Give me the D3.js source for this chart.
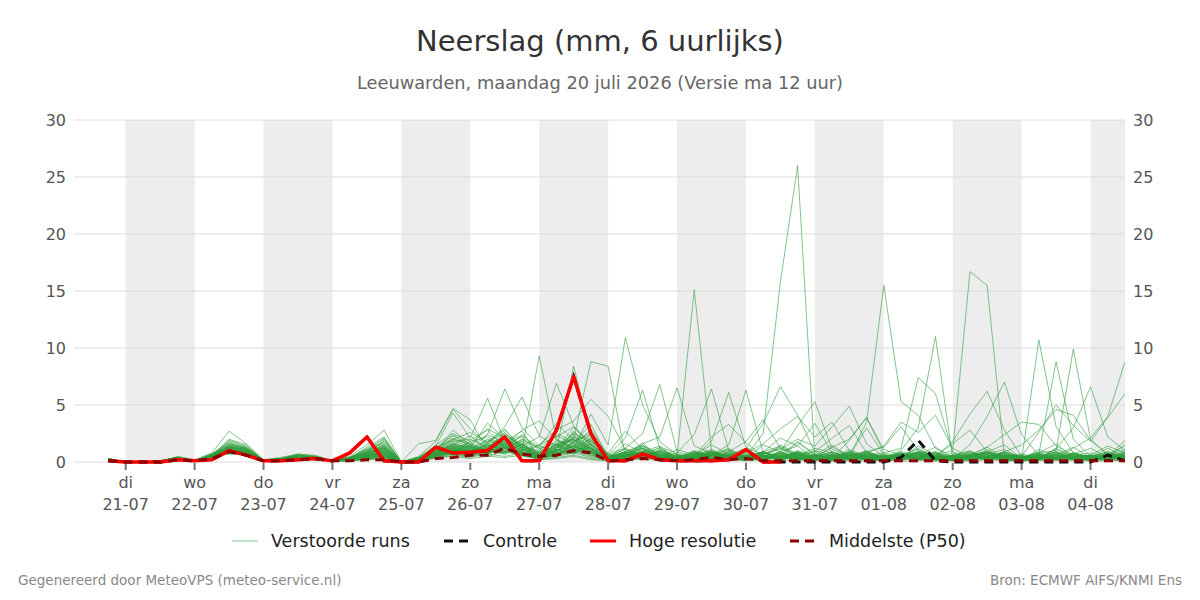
<!DOCTYPE html>
<html lang="nl">
<head>
<meta charset="UTF-8">
<title>Neerslag (mm, 6 uurlijks)</title>
<script src="https://d3js.org/d3.v7.min.js"></script>
<style>
  body { margin: 0; background: #fff; }
  svg { font-family: "DejaVu Sans", sans-serif; display: block; }
  .grid line { stroke: #dcdcdc; stroke-width: 1; }
  .ylab { font-size: 16px; fill: #555; }
  .xlab { font-size: 16px; fill: #555; }
  .run { fill: none; stroke: #2e9e3e; stroke-opacity: 0.6; stroke-width: 1; }
</style>
</head>
<body>
<svg width="1200" height="600"></svg>
<script>
// tijdstap 6 uur, eerste waarde 20-07 18:00 UTC
const startTime = Date.UTC(2026, 6, 20, 18);

// Hoge resolutie (stopt na 10 dagen)
const hres = [0.1, 0,0,0,0.2, 0.1,0.2,1.0,0.6, 0.1,0.1,0.2,0.3, 0.1,0.8,2.2,0.1, 0,0,1.3,0.8,
  0.85,1.0,2.2,0.1, 0.1,2.8,7.5,2.5, 0.1,0.1,0.7,0.2, 0.1,0.1,0.1,0.2, 1.1,0,0];

// Controle run
const control = [0.1, 0,0,0,0.2, 0.1,0.2,1.0,0.6, 0.1,0.1,0.2,0.3, 0.1,0.8,2.2,0.1, 0,0,1.3,0.8,
  0.85,1.0,2.2,0.1, 0.1,2.8,7.5,2.5, 0.1,0.1,0.7,0.2, 0.1,0.1,0.1,0.2, 1.1,0,0,0,
  0,0,0,0, 0,0.4,1.9,0.1, 0,0,0,0, 0,0,0,0, 0,0.6,0.1];

// Middelste (P50)
const p50 = [0.1, 0,0,0,0.2, 0.1,0.3,0.9,0.6, 0.1,0.1,0.2,0.3, 0.1,0.1,0.2,0.2, 0,0,0.3,0.4,
  0.6,0.6,1.2,0.7, 0.5,0.6,1.0,0.8, 0.1,0.2,0.3,0.2, 0.1,0.2,0.4,0.2, 0.3,0.1,0.1,0.1,
  0.1,0.1,0.1,0.1, 0.1,0.1,0.1,0.1, 0.1,0.1,0.1,0.1, 0.1,0.1,0.1,0.1, 0.1,0.1,0.1];

// Verstoorde runs (50 leden)
const runs = [
  [0.2, 0,0,0.1,0.3, 0.1,0.5,1.1,0.8, 0.1,0.2,0.4,0.3, 0.1,0.3,0.6,0.9, 0,0.4,1.2,2.1, 1.4,0.8,1.6,0.5, 0.3,1.2,2.0,0.9, 0.1,0.3,0.6,0.2, 0.1,0.4,0.2,0.3, 0.5,2.5,15.8,26.0, 0.3,0.1,0.4,0.2, 0.1,0.3,0.8,0.2, 0.1,0.4,1.1,0.3, 0.1,0.2,0.6,1.3, 0.4,0.2,0.6],
  [0.2, 0,0,0,0.4, 0.1,0.6,1.4,1.0, 0.1,0.3,0.5,0.4, 0.1,0.2,0.3,0.5, 0,0.1,0.8,1.5, 2.3,1.1,0.7,1.9, 0.6,0.4,1.8,2.6, 0.3,0.8,1.2,0.4, 0.2,0.6,1.5,0.7, 0.2,0.9,1.4,0.6, 1.2,0.8,0.5,3.5, 15.5,5.3,4.1,1.2, 0.3,0.6,0.9,0.4, 0.2,1.1,0.5,0.3, 0.6,1.4,0.8],
  [0.2, 0,0,0.1,0.3, 0.1,0.5,0.9,0.7, 0.1,0.2,0.3,0.3, 0.1,0.1,0.2,0.3, 0,0.2,0.6,1.1, 0.8,1.7,2.9,1.2, 0.5,1.0,1.4,0.8, 0.2,0.4,0.3,1.1, 0.4,0.2,0.7,0.3, 0.1,0.6,0.3,0.8, 0.4,1.3,0.6,0.2, 0.5,0.3,1.4,0.6, 1.0,16.7,15.5,0.5, 0.3,0.8,1.6,0.4, 0.2,0.5,1.9],
  [0.3, 0,0,0,0.4, 0.1,0.6,1.5,1.2, 0.2,0.3,0.6,0.4, 0.1,0.4,0.9,1.3, 0,0.3,1.0,0.6, 1.9,2.8,1.3,0.7, 1.5,2.2,3.1,1.4, 0.2,0.9,0.5,0.7, 0.5,15.1,1.0,0.4, 0.6,0.3,0.8,0.2, 0.1,0.4,0.2,0.9, 0.3,0.6,0.2,0.1, 0.4,0.2,0.7,1.1, 0.3,0.5,0.2,0.8, 0.4,0.9,0.3],
  [0.2, 0,0,0.1,0.3, 0.1,0.4,0.8,0.6, 0.1,0.2,0.3,0.2, 0.1,0.2,0.4,0.6, 0,0.2,0.9,1.7, 1.2,3.4,2.1,0.9, 0.7,1.9,1.2,4.2, 1.5,10.9,5.0,1.8, 0.6,0.3,0.9,0.4, 0.2,0.7,1.3,0.5, 0.3,0.1,0.6,0.3, 0.2,0.8,0.4,0.2, 0.6,1.0,0.3,0.2, 0.1,0.4,0.9,0.3, 0.2,0.6,1.4],
  [0.2, 0,0,0,0.3, 0.1,0.5,1.2,0.9, 0.1,0.3,0.4,0.3, 0.1,0.3,0.7,1.1, 0,0.1,0.5,1.0, 0.6,1.3,2.4,1.6, 0.4,0.9,2.3,1.1, 0.3,0.2,0.8,0.5, 0.1,0.5,0.3,0.9, 0.4,0.2,0.6,1.8, 0.7,0.3,1.1,0.5, 0.4,1.0,3.0,11.0, 0.3,0.6,0.2,0.9, 0.5,0.2,1.2,0.4, 0.1,0.3,0.7],
  [0.2, 0,0,0.1,0.4, 0.1,0.6,1.0,0.8, 0.1,0.2,0.5,0.4, 0.1,0.2,0.5,0.8, 0,0.3,0.7,1.3, 0.9,0.6,1.8,2.7, 0.4,1.6,0.9,2.2, 0.2,0.5,1.7,0.3, 0.2,0.9,0.4,0.6, 0.8,0.3,1.5,0.7, 0.2,0.5,0.9,0.3, 0.1,0.7,0.5,0.4, 0.2,0.3,0.8,0.6, 0.2,10.7,3.1,0.8, 0.4,1.2,0.5],
  [0.2, 0,0,0,0.3, 0.1,0.5,1.3,1.0, 0.1,0.3,0.4,0.3, 0.1,0.4,1.1,1.6, 0,0.2,0.6,0.9, 1.5,1.0,0.8,1.3, 0.9,0.5,1.7,3.3, 0.4,0.2,0.9,1.4, 0.3,0.6,1.1,0.5, 0.2,0.4,0.3,1.0, 0.6,1.5,0.4,0.2, 0.3,0.9,0.6,1.3, 0.4,0.2,0.5,0.9, 0.3,0.8,1.0,9.9, 2.0,0.6,1.1],
  [0.3, 0,0,0.1,0.4, 0.1,0.7,1.6,1.1, 0.2,0.2,0.6,0.5, 0.1,0.3,0.8,1.2, 0,0.1,0.4,0.8, 1.1,2.0,1.5,0.6, 0.3,1.3,2.5,1.7, 0.2,0.6,0.4,0.9, 0.7,0.3,0.6,1.2, 0.4,0.9,0.2,0.5, 1.0,0.6,0.3,0.8, 0.2,0.5,1.2,0.3, 0.6,0.4,0.9,1.5, 0.3,0.7,8.8,2.0, 0.5,0.3,0.8],
  [0.2, 0,0,0,0.3, 0.1,0.4,0.9,0.7, 0.1,0.2,0.4,0.3, 0.1,0.2,0.5,0.7, 0,0.3,1.1,1.9, 1.3,0.7,2.2,1.0, 9.3,2.0,1.1,0.6, 0.3,0.8,1.2,0.5, 0.2,0.4,0.8,0.3, 0.5,0.2,0.9,1.4, 0.3,0.6,0.2,0.4, 0.7,0.3,0.5,0.9, 0.2,0.6,1.3,0.4, 0.1,0.5,0.3,0.7, 1.2,0.4,0.6],
  [0.2, 0,0,0.1,0.3, 0.1,0.5,1.0,0.8, 0.1,0.2,0.3,0.4, 0.1,0.3,0.6,0.4, 0,0.2,0.8,1.4, 0.9,1.5,1.0,2.0, 1.2,1.6,2.0,8.8, 8.4,0.5,1.4,0.7, 0.4,0.9,0.3,0.5, 0.2,0.8,0.4,0.3, 0.6,0.2,0.5,1.0, 0.3,0.7,0.4,0.2, 0.5,0.9,0.3,0.6, 0.2,0.4,1.1,0.5, 0.3,0.7,0.4],
  [0.2, 0,0,0,0.4, 0.1,0.6,1.1,0.9, 0.1,0.3,0.5,0.3, 0.1,0.2,0.4,1.0, 0,0.2,0.7,1.0, 0.7,1.2,2.6,1.1, 0.6,1.0,8.4,2.3, 0.5,1.1,0.6,0.3, 0.2,0.7,1.0,0.4, 0.3,0.5,0.2,0.6, 0.4,0.3,0.8,0.5, 0.2,0.4,0.6,0.3, 0.1,0.3,0.5,0.8, 0.4,0.2,0.6,0.3, 0.2,0.5,0.9],
  [0.2, 0,0,0.1,0.3, 0.1,0.5,0.9,0.6, 0.1,0.2,0.4,0.3, 0.1,0.1,0.3,0.5, 0,0.3,0.9,0.7, 1.0,0.8,1.2,0.9, 0.4,0.7,1.5,0.8, 0.3,0.6,0.4,1.0, 0.2,0.5,0.3,0.7, 0.4,0.2,0.6,0.3, 0.5,0.9,0.4,0.2, 0.3,0.6,0.9,0.4, 0.2,0.7,0.3,0.5, 0.4,0.9,0.3,1.2, 2.1,4.0,8.8],
  [0.2, 0,0,0,0.3, 0.1,0.6,1.2,1.0, 0.1,0.3,0.4,0.4, 0.1,0.4,0.8,1.4, 0,0.2,0.5,1.2, 1.7,0.9,1.4,0.6, 0.3,0.8,1.2,2.0, 0.2,0.4,0.9,0.6, 0.3,0.6,0.2,0.5, 0.7,0.3,0.5,0.9, 0.2,0.4,0.3,0.6, 0.8,1.2,7.4,6.0, 0.9,0.3,0.6,0.2, 0.4,0.7,0.3,0.5, 0.2,0.6,0.4],
  [0.3, 0,0,0.1,0.4, 0.1,0.7,1.3,1.1, 0.1,0.2,0.5,0.4, 0.1,0.3,0.7,1.2, 0,0.3,0.9,1.6, 1.1,2.4,1.7,0.8, 0.5,1.4,0.9,1.6, 0.2,0.7,1.3,0.4, 0.6,0.3,0.8,0.5, 0.2,0.9,0.4,0.7, 0.3,0.6,0.2,0.4, 0.5,0.2,0.9,0.6, 0.3,1.5,4.0,7.0, 2.4,0.6,0.3,0.8, 0.4,0.9,0.5],
  [0.2, 0,0,0,0.3, 0.1,0.5,1.0,0.7, 0.1,0.2,0.3,0.3, 0.1,0.2,0.4,0.6, 0,0.1,0.6,1.1, 0.8,1.1,0.9,1.7, 0.4,0.6,1.3,0.9, 0.3,0.5,0.8,0.3, 0.2,0.4,0.6,1.1, 0.3,0.7,0.2,0.5, 0.4,0.3,0.9,0.2, 0.6,0.4,0.3,0.8, 0.2,0.5,0.7,0.3, 0.4,0.3,1.2,3.0, 6.6,2.2,1.0],
  [0.2, 0,0,0.1,0.3, 0.1,0.4,0.8,0.6, 0.1,0.2,0.3,0.2, 0.1,0.2,0.3,0.4, 0,0.2,0.8,1.3, 0.6,1.4,2.0,1.2, 0.7,0.9,1.8,1.0, 0.4,1.2,2.5,6.8, 0.9,0.4,0.7,0.3, 0.2,0.6,0.3,0.9, 0.5,0.2,0.4,0.7, 0.3,0.6,0.2,0.4, 0.8,0.3,0.5,0.2, 0.1,0.6,0.4,0.3, 0.5,0.2,0.7],
  [0.2, 0,0,0,0.4, 0.1,0.6,1.4,1.1, 0.1,0.3,0.6,0.4, 0.1,0.3,0.9,1.8, 0,0.4,1.3,2.3, 1.6,0.7,1.1,2.4, 1.0,0.8,2.7,1.5, 0.6,2.1,6.3,1.2, 0.4,0.8,0.5,1.0, 0.3,1.5,0.9,3.2, 5.3,1.1,0.6,0.3, 0.2,0.5,0.9,0.4, 0.3,0.6,0.2,0.7, 0.5,0.3,0.8,0.4, 0.6,0.3,0.5],
  [0.2, 0,0,0.1,0.3, 0.1,0.5,1.0,0.8, 0.1,0.2,0.4,0.3, 0.1,0.3,0.5,0.7, 0,0.2,0.7,0.9, 1.2,0.9,1.4,0.7, 0.5,1.1,0.8,1.9, 0.7,0.4,1.6,2.2, 6.5,1.4,0.8,0.5, 0.2,0.4,0.7,0.3, 0.6,0.2,0.5,0.9, 0.4,0.3,0.7,0.2, 0.5,0.9,0.4,0.3, 0.2,0.6,0.3,0.8, 0.4,0.2,0.6],
  [0.2, 0,0,0,0.3, 0.1,0.5,1.2,0.9, 0.1,0.3,0.4,0.4, 0.1,0.2,0.6,1.0, 0,0.1,0.6,1.4, 0.9,1.6,1.2,0.8, 0.6,1.5,1.0,2.1, 0.3,0.7,0.4,1.3, 0.8,2.4,6.4,1.0, 0.5,0.3,0.9,0.4, 0.2,0.7,0.3,0.5, 0.6,0.2,0.4,0.8, 0.3,0.5,0.2,0.6, 0.4,0.8,0.3,0.5, 0.2,0.4,0.7],
  [0.2, 0,0,0.1,0.4, 0.1,0.6,1.1,0.8, 0.1,0.2,0.5,0.3, 0.1,0.3,0.8,1.3, 0,0.3,1.0,1.8, 2.0,1.2,0.9,1.5, 0.8,2.3,1.6,0.9, 0.4,0.9,1.5,0.6, 0.3,0.5,1.8,6.1, 1.3,0.6,0.4,0.9, 0.3,0.5,0.8,0.2, 0.4,0.7,0.3,0.6, 0.2,0.4,0.9,0.3, 0.6,0.2,0.5,0.4, 0.3,0.7,0.2],
  [0.2, 0,0,0,0.3, 0.1,0.5,0.9,0.7, 0.1,0.2,0.3,0.3, 0.1,0.2,0.5,0.8, 0,0.2,0.5,1.0, 1.4,0.8,1.9,1.1, 0.5,0.9,2.2,1.3, 0.3,0.6,0.9,0.4, 0.7,0.3,0.6,1.5, 6.3,0.8,0.4,0.7, 0.2,0.5,0.3,0.6, 0.4,0.8,0.2,0.5, 0.3,0.6,0.9,0.4, 0.2,0.5,0.3,0.7, 0.4,0.6,0.3],
  [0.2, 0,0,0.1,0.3, 0.1,0.4,1.0,0.7, 0.1,0.3,0.4,0.3, 0.1,0.3,0.6,0.9, 0,0.2,0.8,1.2, 0.7,1.3,1.6,0.9, 0.4,1.2,1.9,1.0, 0.2,0.5,0.7,0.3, 0.4,0.8,0.3,0.6, 1.2,3.4,6.6,4.1, 0.9,0.4,0.6,0.3, 0.2,0.5,0.7,0.4, 0.6,0.3,0.5,0.8, 0.3,0.4,0.2,0.6, 0.5,0.3,0.4],
  [0.2, 0,0,0,0.4, 0.1,0.6,1.3,1.0, 0.1,0.2,0.5,0.4, 0.1,0.4,1.0,1.5, 0,0.3,1.1,2.4, 1.3,0.9,1.7,0.6, 0.3,1.8,1.2,2.4, 0.5,0.8,0.4,1.0, 0.3,0.6,0.9,0.4, 0.2,0.7,1.1,2.0, 1.4,3.1,4.9,1.6, 0.5,0.3,0.8,0.4, 0.2,0.6,0.3,0.5, 0.7,0.4,0.2,0.6, 0.3,0.5,0.8],
  [0.2, 0,0,0.1,0.3, 0.1,0.5,1.0,0.8, 0.1,0.2,0.4,0.3, 0.1,0.2,0.5,0.9, 0,1.6,1.9,4.7, 3.7,1.0,2.3,1.4, 0.6,1.1,0.7,1.6, 0.3,0.5,1.0,0.6, 0.2,0.4,0.7,0.3, 0.5,0.9,0.4,1.7, 0.6,0.3,1.9,3.9, 0.8,0.4,0.6,0.3, 0.5,0.2,0.8,0.4, 0.3,0.6,0.4,0.2, 0.5,0.3,0.6],
  [0.3, 0,0,0,0.4, 0.1,0.7,1.8,1.3, 0.2,0.3,0.6,0.5, 0.1,0.3,0.9,1.4, 0,0.3,1.4,4.3, 2.1,5.6,1.8,1.0, 0.8,1.5,2.0,1.1, 0.4,0.9,0.6,0.3, 0.6,0.3,0.9,0.5, 0.2,0.5,0.3,0.8, 0.4,0.6,0.2,0.5, 0.3,0.7,0.4,0.9, 0.2,0.5,0.3,0.6, 0.4,0.2,0.7,0.3, 0.5,0.8,0.3],
  [0.2, 0,0,0.1,0.3, 0.1,0.5,2.0,1.5, 0.1,0.2,0.5,0.4, 0.1,0.2,0.7,1.1, 0,0.2,0.9,2.8, 1.5,2.4,6.4,3.0, 1.4,0.9,2.6,1.2, 0.3,0.6,1.1,0.4, 0.2,0.5,0.3,0.8, 0.4,0.2,0.6,0.3, 0.5,0.8,0.3,0.6, 0.2,0.4,0.9,0.5, 0.3,0.6,0.2,0.4, 0.5,0.3,0.7,0.2, 0.4,0.6,0.3],
  [0.2, 0,0,0,0.3, 0.1,0.6,1.5,1.2, 0.1,0.3,0.5,0.4, 0.1,0.3,1.3,2.2, 0,0.4,1.2,2.0, 2.6,1.7,3.1,5.7, 2.3,1.4,0.8,1.8, 0.6,0.3,0.9,0.5, 0.3,0.7,0.4,0.6, 0.2,0.5,0.8,0.3, 0.6,0.4,0.2,0.7, 0.3,0.5,0.8,0.4, 0.2,0.6,0.3,0.5, 0.4,0.7,0.3,0.5, 0.2,0.4,0.6],
  [0.2, 0,0,0.1,0.4, 0.1,0.5,1.1,0.9, 0.1,0.2,0.4,0.3, 0.1,0.2,0.4,0.7, 0,0.1,0.7,1.3, 1.0,1.6,2.0,1.4, 2.2,6.9,3.2,1.5, 0.4,0.7,0.3,0.9, 0.5,0.2,0.6,0.4, 0.3,0.8,0.5,0.2, 0.4,0.6,0.3,0.8, 0.5,0.2,0.4,0.7, 0.3,0.5,0.8,0.2, 0.6,0.3,0.5,0.4, 0.2,0.7,0.5],
  [0.2, 0,0,0,0.3, 0.1,0.4,0.9,0.6, 0.1,0.2,0.3,0.3, 0.1,0.1,0.4,0.6, 0,0.2,0.6,1.1, 0.9,1.3,1.7,1.0, 1.5,2.8,3.6,5.5, 4.0,1.1,0.5,0.8, 0.3,0.6,0.4,0.2, 0.5,0.3,0.7,0.4, 0.2,0.5,0.3,0.6, 0.4,0.7,0.3,0.5, 0.2,0.4,0.6,0.3, 0.5,0.2,0.4,0.7, 0.3,0.5,0.2],
  [0.2, 0,0,0.1,0.3, 0.1,0.5,1.2,1.0, 0.1,0.3,0.4,0.3, 0.1,0.3,0.7,1.2, 0,0.2,0.8,1.6, 1.2,0.7,1.5,2.2, 0.6,1.0,1.6,0.8, 0.3,0.5,1.2,0.6, 0.2,0.8,0.4,0.3, 0.6,0.4,0.8,0.5, 0.3,0.9,0.4,0.7, 0.2,0.6,1.1,0.5, 1.8,4.2,6.2,2.8, 0.5,0.3,0.9,0.4, 0.6,0.2,0.5],
  [0.2, 0,0,0,0.4, 0.1,0.6,1.0,0.8, 0.1,0.2,0.5,0.4, 0.1,0.2,0.5,0.8, 0,0.3,0.7,1.0, 1.3,1.0,0.8,1.6, 0.5,0.8,1.4,0.9, 0.2,0.6,0.9,0.4, 0.3,0.5,0.7,0.3, 0.4,0.6,0.3,0.8, 0.2,0.5,0.7,0.4, 0.6,0.3,0.5,0.2, 0.4,0.7,0.3,0.6, 0.5,2.6,5.0,3.2, 1.8,3.9,6.0],
  [0.2, 0,0,0.1,0.3, 0.1,0.5,0.8,0.7, 0.1,0.2,0.3,0.3, 0.1,0.2,0.3,0.5, 0,0.1,0.5,0.9, 0.7,0.9,1.2,0.8, 0.3,0.7,1.0,1.3, 0.2,0.4,0.7,0.3, 0.5,0.3,0.8,0.4, 0.2,0.5,0.3,0.6, 0.9,2.1,3.2,0.8, 1.4,3.5,2.6,4.1, 1.2,0.4,0.7,0.3, 0.5,0.2,0.6,0.4, 0.3,0.5,0.2],
  [0.2, 0,0,0,0.3, 0.1,0.6,1.3,1.1, 0.1,0.3,0.6,0.4, 0.1,0.4,1.1,1.7, 0,0.2,1.0,1.5, 1.0,1.8,2.5,1.3, 0.7,1.3,2.1,1.2, 0.4,0.7,0.5,1.0, 0.3,0.6,0.9,0.5, 0.8,1.6,2.9,4.0, 2.2,3.5,1.0,0.4, 0.3,0.5,0.8,0.2, 0.4,0.7,0.3,0.5, 0.2,0.4,0.6,0.3, 0.5,0.8,0.4],
  [0.2, 0,0,0.1,0.4, 0.1,0.5,0.9,0.8, 0.1,0.2,0.4,0.3, 0.1,0.2,0.6,0.8, 0,0.3,0.9,1.2, 0.8,1.1,1.5,0.7, 0.5,1.6,1.2,0.9, 0.2,0.6,0.8,0.4, 0.3,0.5,0.2,0.9, 1.8,3.7,1.2,0.6, 0.4,1.3,2.0,3.9, 1.1,0.6,0.3,0.8, 0.4,0.6,0.9,0.3, 0.5,0.2,0.7,0.4, 0.3,0.6,0.4],
  [0.2, 0,0,0,0.3, 0.1,0.5,1.1,0.9, 0.1,0.2,0.4,0.4, 0.1,0.3,0.6,1.0, 0,0.2,0.6,1.1, 1.5,0.9,1.3,1.8, 0.4,0.9,1.7,1.0, 0.3,0.8,0.4,0.6, 0.2,0.9,0.5,0.3, 0.6,0.3,0.8,0.4, 0.5,0.2,0.6,0.9, 0.3,0.7,0.4,0.5, 0.2,0.6,1.3,2.4, 3.5,3.3,1.4,0.6, 0.8,0.4,1.6],
  [0.2, 0,0,0.1,0.3, 0.1,0.5,1.0,0.7, 0.1,0.2,0.3,0.3, 0.1,0.2,0.4,0.5, 0,0.1,0.5,0.8, 0.6,1.2,0.9,1.5, 0.3,0.6,1.1,0.7, 0.2,0.4,0.6,0.9, 0.3,0.5,0.8,0.4, 0.2,0.6,0.3,0.5, 0.7,0.3,0.5,0.2, 0.4,0.8,0.3,0.6, 0.2,0.5,0.4,0.9, 1.5,2.8,4.6,4.1, 1.9,0.7,0.4],
  [0.2, 0,0,0,0.4, 0.1,0.6,1.4,1.2, 0.1,0.3,0.5,0.4, 0.1,0.3,0.8,1.5, 0,0.4,1.5,2.5, 1.8,2.2,1.4,2.8, 3.6,2.0,1.3,2.9, 0.6,0.3,0.7,0.5, 0.4,0.8,0.3,0.6, 0.3,0.5,0.9,0.4, 0.2,0.6,0.3,0.5, 0.4,0.7,0.2,0.6, 0.3,0.5,0.8,0.4, 0.2,0.6,0.3,0.5, 0.4,0.2,0.6],
  [0.2, 0,0,0.1,0.3, 0.1,0.4,0.7,0.6, 0.1,0.2,0.3,0.2, 0.1,0.1,0.3,0.4, 0,0.2,0.4,0.7, 0.5,0.8,1.0,0.6, 0.4,0.6,0.9,0.5, 0.2,0.3,0.5,0.7, 0.4,0.2,0.6,0.3, 0.5,0.9,2.1,1.4, 3.4,0.8,0.5,3.0, 0.6,0.4,0.2,0.5, 0.3,0.6,0.4,0.8, 0.3,0.5,0.2,0.6, 0.4,0.3,0.5],
  [0.2, 0,0,0,0.3, 0.1,0.5,1.2,1.0, 0.1,0.3,0.5,0.3, 0.1,0.2,0.5,0.9, 0,0.3,0.8,1.5, 1.1,1.9,1.3,0.9, 0.6,1.4,2.4,1.1, 0.3,1.6,0.8,0.4, 1.1,0.6,2.2,3.3, 1.7,0.5,0.3,0.8, 0.4,0.6,0.3,0.5, 0.2,0.4,0.8,0.3, 0.6,0.3,0.5,0.2, 0.4,0.7,0.3,0.5, 0.6,0.3,0.9],
  [0.2, 0,0,0.1,0.4, 0.1,0.6,1.0,0.9, 0.1,0.2,0.4,0.4, 0.1,0.3,0.7,1.1, 0,0.2,0.9,1.4, 1.4,0.8,2.0,1.2, 0.5,1.1,0.7,1.5, 0.4,0.6,0.3,0.8, 0.5,0.3,0.7,0.4, 0.2,0.4,0.6,0.3, 0.5,0.7,0.3,0.9, 1.3,3.1,1.0,0.5, 1.6,2.8,0.9,0.4, 0.3,0.5,0.8,0.3, 0.6,0.4,0.2],
  [0.2, 0,0,0,0.3, 0.1,0.4,0.9,0.7, 0.1,0.2,0.3,0.3, 0.1,0.2,0.4,0.6, 0,0.2,0.7,1.2, 1.0,1.4,1.8,2.3, 1.3,3.4,1.9,1.2, 0.8,2.7,1.1,0.5, 0.3,0.6,0.4,0.7, 0.3,0.5,0.2,0.6, 0.4,0.3,0.7,0.4, 0.2,0.5,0.3,0.6, 0.4,0.2,0.5,0.7, 0.3,0.6,0.4,0.2, 0.5,0.3,0.6],
  [0.3, 0,0,0.1,0.4, 0.1,0.7,1.6,1.3, 0.1,0.3,0.7,0.5, 0.1,0.4,1.2,2.0, 0,0.5,1.8,4.6, 2.9,1.6,2.8,1.3, 1.0,2.5,1.8,2.4, 0.7,1.2,0.6,0.4, 0.2,0.5,0.9,0.3, 0.6,0.2,0.4,0.7, 0.3,0.5,0.8,0.4, 0.2,0.6,0.3,0.5, 0.4,0.7,0.2,0.5, 0.3,0.4,0.6,0.3, 0.5,0.2,0.4],
  [0.2, 0,0,0,0.5, 0.2,0.8,2.7,1.6, 0.2,0.4,0.7,0.6, 0.1,0.5,1.5,2.8, 0,0.3,1.0,2.0, 1.6,2.9,2.1,1.5, 0.8,1.2,3.0,1.8, 0.5,0.9,1.4,0.6, 0.4,1.0,0.5,0.8, 0.3,0.7,1.2,0.4, 0.6,0.3,0.9,0.5, 0.2,0.5,0.7,0.3, 0.5,0.8,0.4,0.6, 0.3,0.5,0.9,0.4, 0.6,0.3,0.5],
  [0.2, 0,0,0.1,0.3, 0.1,0.5,1.9,1.4, 0.1,0.2,0.5,0.4, 0.1,0.3,1.0,2.1, 0,0.2,0.6,1.0, 0.8,1.5,1.1,2.0, 1.2,0.7,1.4,0.8, 0.2,0.5,0.8,1.2, 0.4,0.3,0.6,0.2, 0.5,0.8,0.4,0.6, 0.3,0.5,0.2,0.7, 0.4,0.6,0.3,0.2, 0.5,0.3,0.6,0.4, 0.2,0.5,0.3,0.8, 0.4,0.6,0.3],
  [0.2, 0,0,0,0.3, 0.1,0.6,1.7,1.2, 0.1,0.3,0.6,0.4, 0.1,0.3,0.9,1.9, 0,0.1,0.5,0.8, 0.6,1.0,0.7,1.1, 0.4,0.8,1.0,0.6, 0.3,0.6,0.4,0.7, 0.2,0.5,0.3,0.6, 0.4,0.2,0.5,0.3, 0.6,0.4,0.7,0.3, 0.2,0.4,0.6,0.3, 0.5,0.3,0.4,0.6, 0.2,0.4,0.3,0.5, 0.3,0.5,0.2],
  [0.2, 0,0,0.1,0.4, 0.1,0.5,1.3,1.1, 0.1,0.2,0.4,0.3, 0.1,0.2,0.6,1.3, 0,0.2,0.6,0.9, 0.7,0.5,0.9,0.6, 0.3,0.5,0.8,0.4, 0.2,0.3,0.5,0.3, 0.2,0.4,0.2,0.5, 0.3,0.2,0.4,0.2, 0.3,0.2,0.5,0.3, 0.2,0.3,0.4,0.2, 0.3,0.2,0.4,0.3, 0.2,0.3,0.2,0.4, 0.2,0.3,0.2],
  [0.2, 0,0,0,0.3, 0.1,0.5,0.9,0.8, 0.1,0.2,0.4,0.3, 0.1,0.2,0.5,0.6, 0,0.1,0.3,0.6, 0.4,0.7,0.5,0.8, 0.2,0.4,0.6,0.3, 0.1,0.3,0.2,0.4, 0.2,0.3,0.1,0.2, 0.3,0.1,0.2,0.4, 0.2,0.1,0.3,0.2, 0.1,0.2,0.3,0.1, 0.2,0.1,0.3,0.2, 0.1,0.2,0.1,0.3, 0.1,0.2,0.1],
  [0.2, 0,0,0.1,0.3, 0.1,0.4,0.8,0.6, 0.1,0.2,0.3,0.3, 0.1,0.1,0.2,0.3, 0,0.1,0.4,0.5, 0.3,0.5,0.4,0.6, 0.2,0.3,0.5,0.2, 0.1,0.2,0.3,0.1, 0.1,0.2,0.1,0.3, 0.1,0.2,0.1,0.2, 0.1,0.2,0.1,0.1, 0.2,0.1,0.1,0.2, 0.1,0.1,0.2,0.1, 0.1,0.1,0.2,0.1, 0.1,0.1,0.2],
  [0.2, 0,0,0,0.4, 0.1,0.6,1.1,0.9, 0.1,0.3,0.5,0.4, 0.1,0.3,0.8,1.2, 0,0.2,0.5,0.7, 0.5,0.9,1.3,0.7, 0.4,0.6,0.9,1.2, 0.2,0.4,0.6,0.3, 0.2,0.4,0.3,0.5, 0.2,0.3,0.5,0.2, 0.3,0.5,0.2,0.4, 0.3,0.2,0.5,0.3, 0.2,0.4,0.3,0.5, 0.2,0.3,0.4,0.2, 0.3,0.2,0.4]
];

const yTicks = [0, 5, 10, 15, 20, 25, 30];
const dayNames = ["zo", "ma", "di", "wo", "do", "vr", "za"];
const legendItems = ["Verstoorde runs", "Controle", "Hoge resolutie", "Middelste (P50)"];

const svg = d3.select("svg");
const pLeft = 74, pRight = 1125, pTop = 120, pBottom = 462;

const timeOf = i => new Date(startTime + i * 6 * 3600 * 1000);

const x = d3.scaleUtc()
  .domain([new Date(Date.UTC(2026, 6, 20, 6)), new Date(Date.UTC(2026, 7, 4, 12))])
  .range([pLeft, pRight]);
const y = d3.scaleLinear().domain([0, 30]).range([pBottom, pTop]);

// titels
svg.append("text").attr("x", 600).attr("y", 51).attr("text-anchor", "middle")
  .style("font-size", "29px").style("fill", "#333").text("Neerslag (mm, 6 uurlijks)");
svg.append("text").attr("x", 600).attr("y", 89).attr("text-anchor", "middle")
  .style("font-size", "17.8px").style("fill", "#666")
  .text("Leeuwarden, maandag 20 juli 2026 (Versie ma 12 uur)");

// dag-banden (om de dag grijs)
const days = d3.utcDay.range(new Date(Date.UTC(2026, 6, 21)), new Date(Date.UTC(2026, 7, 5)));
svg.append("g").selectAll("rect")
  .data(days.filter((d, i) => i % 2 === 0))
  .join("rect")
  .attr("x", d => x(d))
  .attr("width", d => Math.min(x(d3.utcDay.offset(d, 1)), pRight) - x(d))
  .attr("y", pTop).attr("height", pBottom - pTop)
  .attr("fill", "#ededed");

// rasterlijnen
svg.append("g").attr("class", "grid").selectAll("line")
  .data(yTicks).join("line")
  .attr("x1", pLeft).attr("x2", pRight)
  .attr("y1", d => y(d)).attr("y2", d => y(d));

// y-as labels links en rechts
svg.append("g").selectAll("text").data(yTicks).join("text")
  .attr("class", "ylab").attr("x", 66).attr("y", d => y(d)).attr("dy", "0.35em")
  .attr("text-anchor", "end").text(d => d);
svg.append("g").selectAll("text").data(yTicks).join("text")
  .attr("class", "ylab").attr("x", 1133).attr("y", d => y(d)).attr("dy", "0.35em")
  .attr("text-anchor", "start").text(d => d);

// x-as
const xAxis = svg.append("g").attr("transform", `translate(0,${pBottom})`);
xAxis.selectAll("line").data(days).join("line")
  .attr("x1", d => x(d)).attr("x2", d => x(d))
  .attr("y1", 1).attr("y2", 8)
  .attr("stroke", "#777").attr("stroke-width", 2);
const xl = xAxis.selectAll("g.lab").data(days).join("g").attr("class", "lab");
xl.append("text").attr("class", "xlab").attr("x", d => x(d)).attr("y", 26)
  .attr("text-anchor", "middle").text(d => dayNames[d.getUTCDay()]);
xl.append("text").attr("class", "xlab").attr("x", d => x(d)).attr("y", 48)
  .attr("text-anchor", "middle").text(d => d3.utcFormat("%d-%m")(d));

// lijnen
const line = d3.line().x((d, i) => x(timeOf(i))).y(d => y(d));

svg.append("defs").append("clipPath").attr("id", "plot")
  .append("rect").attr("x", pLeft).attr("y", pTop - 5).attr("width", pRight - pLeft).attr("height", pBottom - pTop + 10);
const plot = svg.append("g").attr("clip-path", "url(#plot)");

plot.append("g").selectAll("path").data(runs).join("path")
  .attr("class", "run").attr("d", line);

plot.append("path").attr("d", line(control)).attr("fill", "none")
  .attr("stroke", "#111").attr("stroke-width", 3).attr("stroke-dasharray", "9,6");
plot.append("path").attr("d", line(hres)).attr("fill", "none")
  .attr("stroke", "#ff0000").attr("stroke-width", 3.5).attr("stroke-linejoin", "round");
plot.append("path").attr("d", line(p50)).attr("fill", "none")
  .attr("stroke", "#8b0000").attr("stroke-width", 3).attr("stroke-dasharray", "9,6");

// legenda
const legendX = [232, 444, 590, 790];
const leg = svg.append("g").selectAll("g").data(legendItems).join("g")
  .attr("transform", (d, i) => `translate(${legendX[i]},541)`);
leg.append("line").attr("x1", 0).attr("x2", 26).attr("y1", 0).attr("y2", 0)
  .attr("stroke", (d, i) => ["#2e9e3e", "#111", "#ff0000", "#8b0000"][i])
  .attr("stroke-opacity", (d, i) => i === 0 ? 0.6 : 1)
  .attr("stroke-width", (d, i) => i === 0 ? 1 : 3)
  .attr("stroke-dasharray", (d, i) => (i === 1 || i === 3) ? "9,6" : null);
leg.append("text").attr("x", 39).attr("y", 0).attr("dy", "0.35em")
  .style("font-size", "17.5px").style("fill", "#222").text(d => d);

// voetnoten
svg.append("text").attr("x", 18).attr("y", 585).style("font-size", "13.5px").style("fill", "#888")
  .text("Gegenereerd door MeteoVPS (meteo-service.nl)");
svg.append("text").attr("x", 1182).attr("y", 585).attr("text-anchor", "end")
  .style("font-size", "13.5px").style("fill", "#888").text("Bron: ECMWF AIFS/KNMI Ens");
</script>
</body>
</html>
